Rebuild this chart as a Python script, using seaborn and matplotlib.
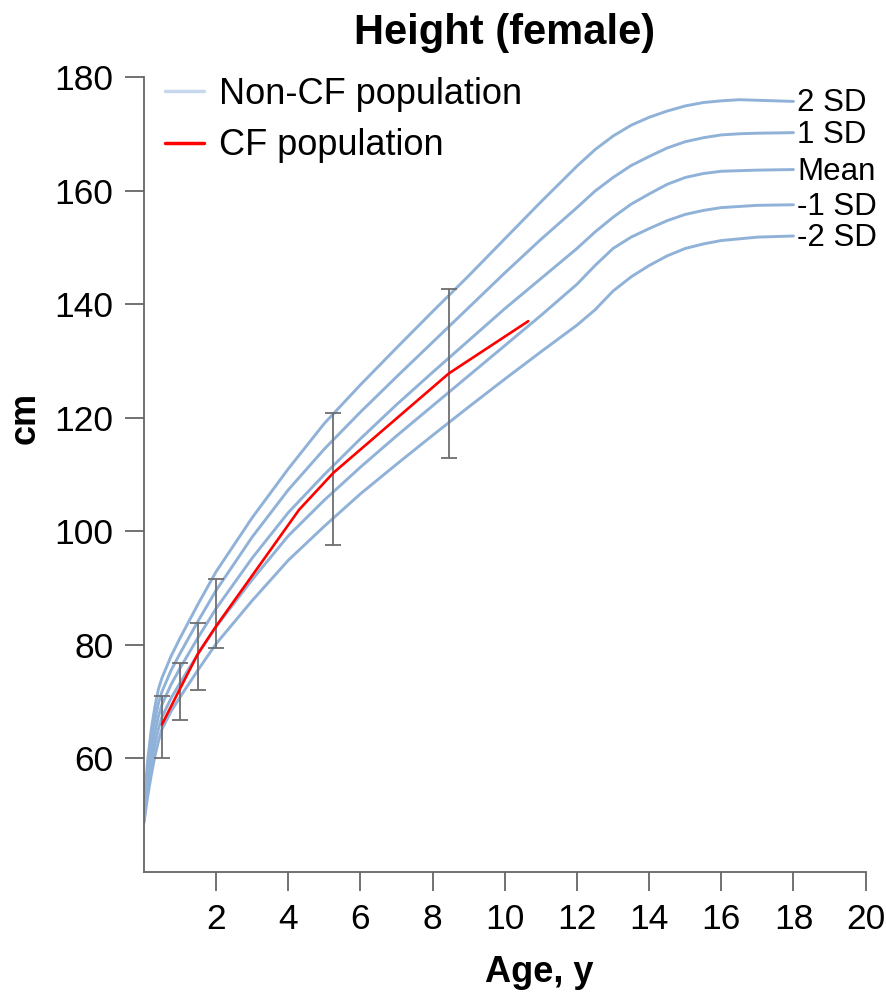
import numpy as np
import pandas as pd
import matplotlib
matplotlib.use("Agg")
import matplotlib.pyplot as plt
from matplotlib.lines import Line2D
import matplotlib.transforms as mtransforms
import seaborn as sns

# Reference growth curves (female height, cm) by age in years
ages = [0, 0.05, 0.1, 0.2, 0.3, 0.4, 0.5, 0.75, 1, 1.5, 2, 3, 4, 5, 6, 7, 8, 9,
        10, 11, 12, 12.5, 13, 13.5, 14, 14.5, 15, 15.5, 16, 16.5, 17, 18]
sd_plus2 = [49.5, 55.5, 59.5, 65.0, 69.0, 72.2, 74.2, 78.0, 81.2, 87.2, 92.9,
            102.4, 111.0, 119.0, 125.8, 132.3, 138.7, 145.0, 151.5, 158.0,
            164.3, 167.2, 169.6, 171.5, 172.9, 174.0, 174.9, 175.5, 175.8,
            176.0, 175.9, 175.7]
sd_plus1 = [49.3, 54.3, 57.8, 63.0, 66.8, 69.7, 71.8, 75.5, 78.5, 84.2, 89.6,
            99.0, 107.3, 114.5, 121.0, 127.2, 133.3, 139.4, 145.5, 151.4,
            157.0, 159.9, 162.3, 164.4, 166.0, 167.5, 168.6, 169.3, 169.8,
            170.0, 170.1, 170.2]
sd_mean = [49.1, 53.0, 56.2, 61.0, 64.6, 67.4, 69.5, 73.0, 75.9, 81.3, 86.4,
           95.3, 103.3, 110.0, 116.3, 122.3, 128.0, 133.6, 139.2, 144.5,
           149.8, 152.7, 155.3, 157.6, 159.4, 161.1, 162.3, 163.0, 163.4,
           163.5, 163.6, 163.7]
sd_minus1 = [48.9, 51.8, 54.6, 59.0, 62.5, 65.2, 67.3, 70.6, 73.3, 78.4, 83.2,
             91.5, 99.2, 105.5, 111.3, 116.8, 122.1, 127.4, 132.7, 138.0,
             143.5, 146.8, 149.8, 151.8, 153.3, 154.7, 155.8, 156.5, 157.0,
             157.2, 157.4, 157.5]
sd_minus2 = [48.7, 51.0, 53.2, 57.0, 60.3, 63.0, 65.2, 68.3, 70.8, 75.6, 80.2,
             87.8, 94.9, 100.9, 106.6, 111.8, 116.9, 121.9, 126.8, 131.6,
             136.3, 139.0, 142.3, 144.8, 146.8, 148.5, 149.8, 150.6, 151.2,
             151.5, 151.8, 152.0]
curve_labels = ["2 SD", "1 SD", "Mean", "-1 SD", "-2 SD"]

# CF cohort mean height
cf_age = [0.5, 1.0, 1.5, 2.0, 4.3, 5.25, 8.45, 10.65]
cf_height = [66.0, 72.3, 78.5, 83.3, 103.8, 110.3, 127.8, 137.0]

# CF cohort spread (lower / upper whisker)
bar_age = [0.5, 1.0, 1.5, 2.0, 5.25, 8.45]
bar_low = [60.0, 66.8, 72.1, 79.5, 97.6, 112.9]
bar_high = [71.0, 76.8, 83.9, 91.6, 120.8, 142.6]

x_ticks = [2, 4, 6, 8, 10, 12, 14, 16, 18, 20]
y_ticks = [60, 80, 100, 120, 140, 160, 180]

sns.set_style("ticks")
plt.rcParams["font.family"] = ["Liberation Sans", "DejaVu Sans"]
plt.rcParams["text.color"] = "black"

curve_color = "#90b2d8"
legend_blue = "#c7d7ec"
axis_grey = "#666666"

ref = pd.DataFrame({
    "age": np.tile(ages, 5),
    "height": np.concatenate([sd_plus2, sd_plus1, sd_mean, sd_minus1, sd_minus2]),
    "curve": np.repeat(curve_labels, len(ages)),
})
cf = pd.DataFrame({"age": cf_age, "height": cf_height})

fig = plt.figure(figsize=(8.86, 9.96), dpi=100)
ax = fig.add_axes([0.1625, 0.1245, 0.8145, 0.7982])

sns.lineplot(data=ref, x="age", y="height", units="curve", estimator=None,
             color=curve_color, linewidth=2.1, sort=False, ax=ax, legend=False)

low = np.array(bar_low)
high = np.array(bar_high)
mid = (low + high) / 2
ax.errorbar(bar_age, mid, yerr=(high - low) / 2, fmt="none", ecolor="#6e6e6e",
            elinewidth=1.3, capsize=6, capthick=1.3, zorder=3)

sns.lineplot(data=cf, x="age", y="height", color="#ff0000", linewidth=1.9,
             ax=ax, legend=False, zorder=4)

# curve names at the right-hand end of each reference line
label_shift = mtransforms.offset_copy(ax.transData, fig=fig, x=0, y=-2,
                                      units="dots")
end_vals = [sd_plus2[-1], sd_plus1[-1], sd_mean[-1], sd_minus1[-1], sd_minus2[-1]]
for lab, v in zip(curve_labels, end_vals):
    ax.text(ages[-1] + 0.1, v, lab, fontsize=22.5, va="center", ha="left",
            color="black", transform=label_shift)

ax.set_xlim(0, 20)
ax.set_ylim(40, 180)
ax.set_xticks(x_ticks)
ax.set_yticks(y_ticks)
ax.tick_params(axis="both", length=14, width=1.3, color=axis_grey,
               labelsize=25.5, labelcolor="black", pad=8)
for side in ["left", "bottom"]:
    ax.spines[side].set_color(axis_grey)
    ax.spines[side].set_linewidth(1.3)
sns.despine(ax=ax)

ax.set_title("Height (female)", fontsize=30, fontweight="bold", pad=24,
             color="black")
ax.set_xlabel("Age, y", fontsize=26, fontweight="bold", color="black")
ax.set_ylabel("cm", fontsize=26, fontweight="bold", color="black")
ax.xaxis.set_label_coords(0.548, -0.104)
ax.yaxis.set_label_coords(-0.141, 0.571)

handles = [Line2D([0], [0], color=legend_blue, linewidth=2.5),
           Line2D([0], [0], color="#ff0000", linewidth=2.5)]
leg = ax.legend(handles, ["Non-CF population", "CF population"],
                loc="upper left", bbox_to_anchor=(-0.0165, 1.041), frameon=False,
                fontsize=26, handlelength=1.1, handletextpad=0.42,
                labelspacing=0.45)
for t in leg.get_texts():
    t.set_color("black")

fig.savefig("out.png", dpi=100)
